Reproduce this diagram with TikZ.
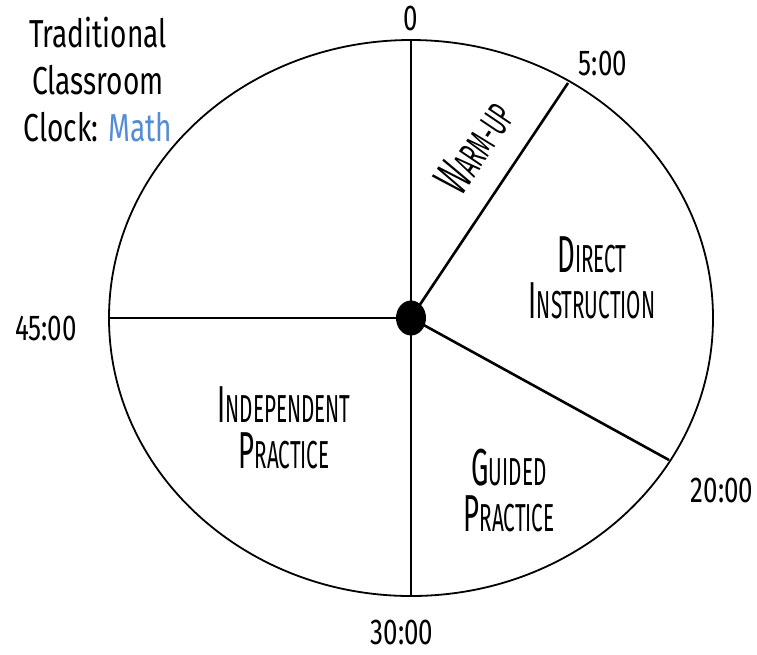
\documentclass[tikz,border=0pt]{standalone}
\usepackage{fontspec}
\usepackage{xcolor}
\usetikzlibrary{positioning,shapes.geometric}

\newfontfamily\clockfont[FakeStretch=0.72]{Fira Sans}
\newfontfamily\partfont[FakeStretch=0.53]{Fira Sans}
\definecolor{mathblue}{RGB}{85,140,215}
\newcommand\capword[2]{{\fontsize{52}{52}\selectfont #1}{\fontsize{39}{39}\selectfont #2}}

\tikzset{
  timelabel/.style={font=\clockfont\fontsize{36}{36}\selectfont, inner sep=0pt},
  partlabel/.style={font=\partfont\fontsize{39}{46}\selectfont, align=center, inner sep=0pt},
  spoke/.style={line width=2.6pt},
}

\begin{document}
\begin{tikzpicture}[x=1pt,y=-1pt]
\useasboundingbox (0,0) rectangle (757,654);
% clock face
\draw[line width=1.8pt] (411,318) ellipse[x radius=302pt, y radius=278pt];
\node (hub) [ellipse, fill=black, minimum width=30pt, minimum height=35pt, inner sep=0pt] at (411,318) {};
\coordinate (top) at (411,40);
\coordinate (five) at (568,83);
\coordinate (twenty) at (669,460);
\coordinate (bottom) at (411,596);
\coordinate (left) at (109,318);
\foreach \rim in {top,five,twenty,bottom,left}
  \draw[spoke] (hub.center) -- (\rim);
% times
\node (t0) [timelabel] at (411,18) {0};
\node (t5) [timelabel] at (603,63) {5:00};
\node (t20) [timelabel] at (722,490) {20:00};
\node (t30) [timelabel] at (402,632) {30:00};
\node (t45) [timelabel] at (46,328) {45:00};
% parts of the lesson
\node (warm) [partlabel, rotate=56] at (474,147) {\capword{W}{ARM-UP}};
\node (direct) [partlabel] at (592,278) {\capword{D}{IRECT}\\\capword{I}{NSTRUCTION}};
\node (guided) [partlabel] at (509,490) {\capword{G}{UIDED}\\\capword{P}{RACTICE}};
\node (indep) [partlabel] at (284,428) {\capword{I}{NDEPENDENT}\\\capword{P}{RACTICE}};
% title
\node (title) [font=\clockfont\fontsize{39}{47}\selectfont, align=center, inner sep=0pt] at (98,80)
  {Traditional\\Classroom\\Clock: \textcolor{mathblue}{Math}};
\end{tikzpicture}
\end{document}
